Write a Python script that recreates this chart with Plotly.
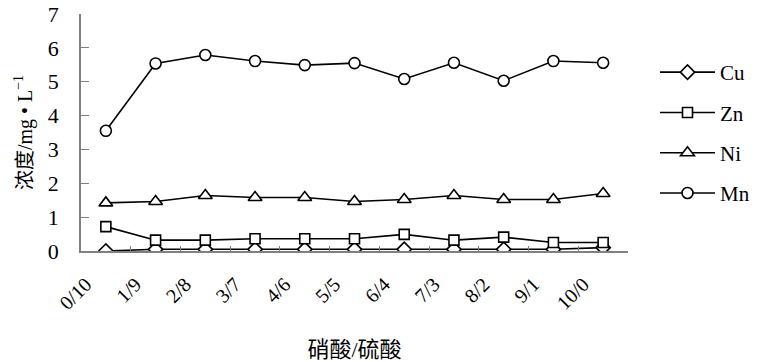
import plotly.graph_objects as go

categories = ["0/10", "1/9", "2/8", "3/7", "4/6", "5/5", "6/4", "7/3", "8/2", "9/1", "10/0"]
cu = [0.0, 0.05, 0.05, 0.05, 0.05, 0.05, 0.05, 0.05, 0.05, 0.05, 0.1]
zn = [0.72, 0.32, 0.32, 0.36, 0.36, 0.36, 0.49, 0.32, 0.41, 0.25, 0.25]
ni = [1.42, 1.46, 1.64, 1.58, 1.58, 1.46, 1.52, 1.64, 1.52, 1.52, 1.70]
mn = [3.55, 5.54, 5.79, 5.61, 5.49, 5.55, 5.08, 5.56, 5.03, 5.61, 5.56]

series = [("Cu", cu, "diamond", 11), ("Zn", zn, "square", 10),
          ("Ni", ni, "triangle-up", 12), ("Mn", mn, "circle", 11)]

fig = go.Figure()
for i, (name, vals, sym, sz) in enumerate(series):
    fig.add_trace(go.Scatter(
        x=categories, y=vals, name=name, mode="lines+markers",
        line=dict(color="black", width=1.6),
        marker=dict(symbol=sym, size=sz, color="white",
                    line=dict(color="black", width=1.6)),
        legendgroup=name,
    ))

serif = "'Times New Roman', 'Liberation Serif', 'DejaVu Serif', serif"
cjk = "'Times New Roman', 'Liberation Serif', 'Noto Sans CJK SC', serif"
fig.update_layout(
    width=759, height=362,
    margin=dict(l=81, r=131, t=14, b=111),
    paper_bgcolor="white", plot_bgcolor="white",
    font=dict(family=serif, color="black"),
    showlegend=True,
    legend=dict(xref="container", yref="container", x=655/759, y=1 - 52/362,
                xanchor="left", yanchor="top",
                font=dict(size=21, family=serif), tracegroupgap=10,
                itemwidth=55, bgcolor="rgba(0,0,0,0)"),
    xaxis=dict(
        type="category", range=[-0.5, 10.5], showline=True, automargin=False,
        linecolor="#808080", linewidth=1.5, ticks="inside", ticklen=5,
        tickcolor="#808080", tickson="boundaries", tickangle=-45,
        ticklabelstandoff=12, ticklabelshift=-20,
        tickfont=dict(size=20, family=serif), showgrid=False, zeroline=False,
        title=dict(text="硝酸/硫酸", font=dict(size=22, family=cjk), standoff=32),
    ),
    yaxis=dict(
        range=[0, 7], dtick=1, showline=True, linecolor="#808080", linewidth=1.5,
        automargin=False,
        ticks="inside", ticklen=8, tickcolor="#808080", ticklabelstandoff=16,
        tickfont=dict(size=22, family=serif), showgrid=False, zeroline=False,
        title=dict(text="浓度/mg • L<sup>−1</sup>", font=dict(size=20, family=cjk), standoff=10),
    ),
)

fig.write_html("out.html")
